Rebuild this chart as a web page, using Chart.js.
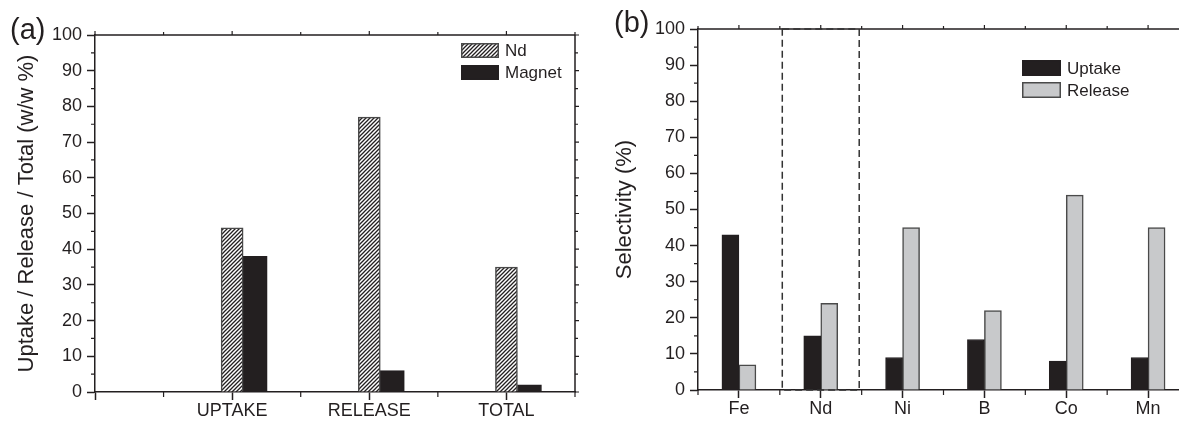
<!DOCTYPE html>
<html>
<head>
<meta charset="utf-8">
<script src="https://cdn.jsdelivr.net/npm/chart.js@4/dist/chart.umd.min.js"></script>
<style>
  html, body { margin: 0; padding: 0; background: #fff; overflow: hidden; width: 1179px; height: 424px; }
  canvas { position: absolute; top: 0; }
  #chartA { left: 0; }
  #chartB { left: 590px; }
</style>
</head>
<body>
<canvas id="chartA" width="590" height="424"></canvas>
<canvas id="chartB" width="620" height="424"></canvas>
<script>
// ---- Panel (a): Nd and whole-magnet fractions (w/w %) ----
const stages = ['UPTAKE', 'RELEASE', 'TOTAL'];
const ndValues = [46, 77, 35];
const magnetValues = [38, 6, 2];

// ---- Panel (b): selectivity per element (%) ----
const elements = ['Fe', 'Nd', 'Ni', 'B', 'Co', 'Mn'];
const uptakeValues = [43, 15, 9, 14, 8, 9];
const releaseValues = [7, 24, 45, 22, 54, 45];

// dashed frame around the Nd group in panel (b), in axis units
const ndFrameX = [1.53, 2.47];
const ndFrameY = [0, 100];

const INK = '#231f20';
const FONT = '"Liberation Sans", Arial, Helvetica, sans-serif';

// diagonal hatching used for the Nd bars
function makeHatch() {
  const s = 4;
  const c = document.createElement('canvas');
  c.width = s; c.height = s;
  const g = c.getContext('2d');
  g.fillStyle = '#ffffff';
  g.fillRect(0, 0, s, s);
  g.strokeStyle = INK;
  g.lineWidth = 1.3;
  g.beginPath();
  g.moveTo(0, s); g.lineTo(s, 0);
  g.moveTo(-1, 1); g.lineTo(1, -1);
  g.moveTo(s - 1, s + 1); g.lineTo(s + 1, s - 1);
  g.stroke();
  return g.createPattern(c, 'repeat');
}
const hatch = makeHatch();

// box frame, minor ticks and mirrored ticks on the top/right edges
const framePlugin = {
  id: 'frame',
  afterDraw(chart, args, opts) {
    const { ctx, chartArea: a } = chart;
    const xs = chart.scales.x, ys = chart.scales.y;
    ctx.save();
    ctx.strokeStyle = INK;
    ctx.lineWidth = 1.5;
    ctx.beginPath();
    ctx.moveTo(a.left, a.top); ctx.lineTo(a.right, a.top);
    ctx.moveTo(a.right, a.top); ctx.lineTo(a.right, a.bottom);
    ctx.stroke();

    ctx.lineWidth = 1.2;
    ctx.beginPath();
    // x minor ticks (half steps) below the axis, mirrored ticks above the top edge
    for (let v = xs.min; v <= xs.max + 1e-9; v += opts.xStep) {
      const px = xs.getPixelForValue(v);
      if (px > chart.width) continue;
      const major = Math.abs(v - Math.round(v)) < 1e-9;
      if (!major) { ctx.moveTo(px, a.bottom); ctx.lineTo(px, a.bottom + 5); }
      ctx.moveTo(px, a.top); ctx.lineTo(px, a.top - (major ? 4 : 3));
    }
    // y minor ticks left of the axis, mirrored ticks right of the right edge
    for (let v = ys.min; v <= ys.max + 1e-9; v += opts.yStep) {
      const py = ys.getPixelForValue(v);
      const major = Math.abs(v / 10 - Math.round(v / 10)) < 1e-9;
      if (!major) { ctx.moveTo(a.left, py); ctx.lineTo(a.left - 4, py); }
      ctx.moveTo(a.right, py); ctx.lineTo(a.right + (major ? 4 : 3), py);
    }
    ctx.stroke();

    // optional dashed highlight frame
    if (opts.dashX) {
      const x0 = xs.getPixelForValue(opts.dashX[0]);
      const x1 = xs.getPixelForValue(opts.dashX[1]);
      const y0 = ys.getPixelForValue(opts.dashY[0]);
      const y1 = ys.getPixelForValue(opts.dashY[1]);
      ctx.setLineDash([7, 4]);
      ctx.lineWidth = 1.5;
      ctx.strokeStyle = '#333';
      ctx.strokeRect(x0, y1, x1 - x0, y0 - y1);
    }
    ctx.restore();
  }
};

// legend drawn inside the plot area, top-right
const boxLegendPlugin = {
  id: 'boxLegend',
  afterDraw(chart, args, opts) {
    const { ctx, chartArea: a } = chart;
    ctx.save();
    ctx.font = `17px ${FONT}`;
    ctx.textBaseline = 'middle';
    ctx.textAlign = 'left';
    chart.data.datasets.forEach((ds, i) => {
      const x = a.left + opts.left;
      const y = a.top + opts.top + i * opts.rowGap;
      ctx.fillStyle = ds.backgroundColor;
      ctx.fillRect(x, y, opts.boxW, opts.boxH);
      ctx.strokeStyle = ds.borderColor;
      ctx.lineWidth = 1.5;
      ctx.strokeRect(x + 0.75, y + 0.75, opts.boxW - 1.5, opts.boxH - 1.5);
      ctx.fillStyle = INK;
      ctx.fillText(ds.label, x + opts.boxW + 6, y + opts.boxH / 2 + 1);
    });
    ctx.restore();
  }
};

// panel letter in the top-left corner
const panelTagPlugin = {
  id: 'panelTag',
  afterDraw(chart, args, opts) {
    const ctx = chart.ctx;
    ctx.save();
    ctx.font = `29px ${FONT}`;
    ctx.fillStyle = INK;
    ctx.textBaseline = 'alphabetic';
    ctx.fillText(opts.text, opts.x, opts.y);
    ctx.restore();
  }
};

function yAxis(title, width, titlePad) {
  return {
    type: 'linear', min: 0, max: 100,
    afterFit: s => { s.width = width; },
    ticks: { stepSize: 10, padding: 5, color: INK, font: { family: FONT, size: 18 } },
    grid: { drawOnChartArea: false, tickLength: 8, tickWidth: 1.5, tickColor: INK },
    border: { color: INK, width: 1.5 },
    title: { display: true, text: title, color: INK, font: { family: FONT, size: 22 },
             padding: { top: titlePad, bottom: 0 } }
  };
}

function xAxis(min, max, names, height, tickValues) {
  return {
    type: 'linear', min, max,
    offset: false,
    afterFit: s => { s.height = height; },
    afterBuildTicks: s => { s.ticks = tickValues.map(v => ({ value: v })); },
    ticks: { autoSkip: false, maxRotation: 0, padding: 0, color: INK,
             font: { family: FONT, size: 18 },
             callback: v => (Number.isInteger(v) && names[v - 1] !== undefined) ? names[v - 1] : '' },
    grid: { offset: false, drawOnChartArea: false, tickLength: 8, tickWidth: 1.5, tickColor: INK },
    border: { color: INK, width: 1.5 }
  };
}

const common = {
  responsive: false,
  animation: false,
  devicePixelRatio: 1,
  plugins: { legend: { display: false }, tooltip: { enabled: false } }
};

// ---------- Chart (a) ----------
const magnetShift = 0.168; // Magnet bars sit just right of the Nd bars
new Chart(document.getElementById('chartA'), {
  type: 'bar',
  data: {
    datasets: [
      { label: 'Nd', data: ndValues.map((v, i) => ({ x: i + 1, y: v })),
        backgroundColor: hatch, borderColor: '#4a4a4a', borderWidth: 1.5, barThickness: 22 },
      { label: 'Magnet', data: magnetValues.map((v, i) => ({ x: i + 1 + magnetShift, y: v })),
        backgroundColor: INK, borderColor: INK, borderWidth: 1, barThickness: 24 }
    ]
  },
  options: Object.assign({}, common, {
    layout: { padding: { left: 0, top: 35, right: 15, bottom: 0 } },
    datasets: { bar: { grouped: false } },
    scales: {
      x: xAxis(0, 3.5, stages, 32, [0, 1, 2, 3]),
      y: yAxis('Uptake / Release / Total (w/w %)', 95, 14)
    },
    plugins: Object.assign({}, common.plugins, {
      frame: { xStep: 0.5, yStep: 5 },
      boxLegend: { left: 366, top: 8, rowGap: 22, boxW: 38, boxH: 15 },
      panelTag: { text: '(a)', x: 10, y: 39 }
    })
  }),
  plugins: [framePlugin, boxLegendPlugin, panelTagPlugin]
});

// ---------- Chart (b) ----------
new Chart(document.getElementById('chartB'), {
  type: 'bar',
  data: {
    datasets: [
      { label: 'Uptake', data: uptakeValues.map((v, i) => ({ x: i + 1, y: v })),
        backgroundColor: INK, borderColor: INK, borderWidth: 1 },
      { label: 'Release', data: releaseValues.map((v, i) => ({ x: i + 1, y: v })),
        backgroundColor: '#c8c9cb', borderColor: '#4a4a4a', borderWidth: 1.5 }
    ]
  },
  options: Object.assign({}, common, {
    layout: { padding: { left: 0, top: 29, right: 21, bottom: 0 } },
    datasets: { bar: { grouped: true, barThickness: 17 } },
    scales: {
      x: xAxis(0.5, 6.5, elements, 34, [1, 2, 3, 4, 5, 6]),
      y: yAxis('Selectivity (%)', 108, 22)
    },
    plugins: Object.assign({}, common.plugins, {
      frame: { xStep: 0.5, yStep: 5, dashX: ndFrameX, dashY: ndFrameY },
      boxLegend: { left: 324, top: 31, rowGap: 22, boxW: 39, boxH: 16 },
      panelTag: { text: '(b)', x: 24, y: 32 }
    })
  }),
  plugins: [framePlugin, boxLegendPlugin, panelTagPlugin]
});
</script>
</body>
</html>
